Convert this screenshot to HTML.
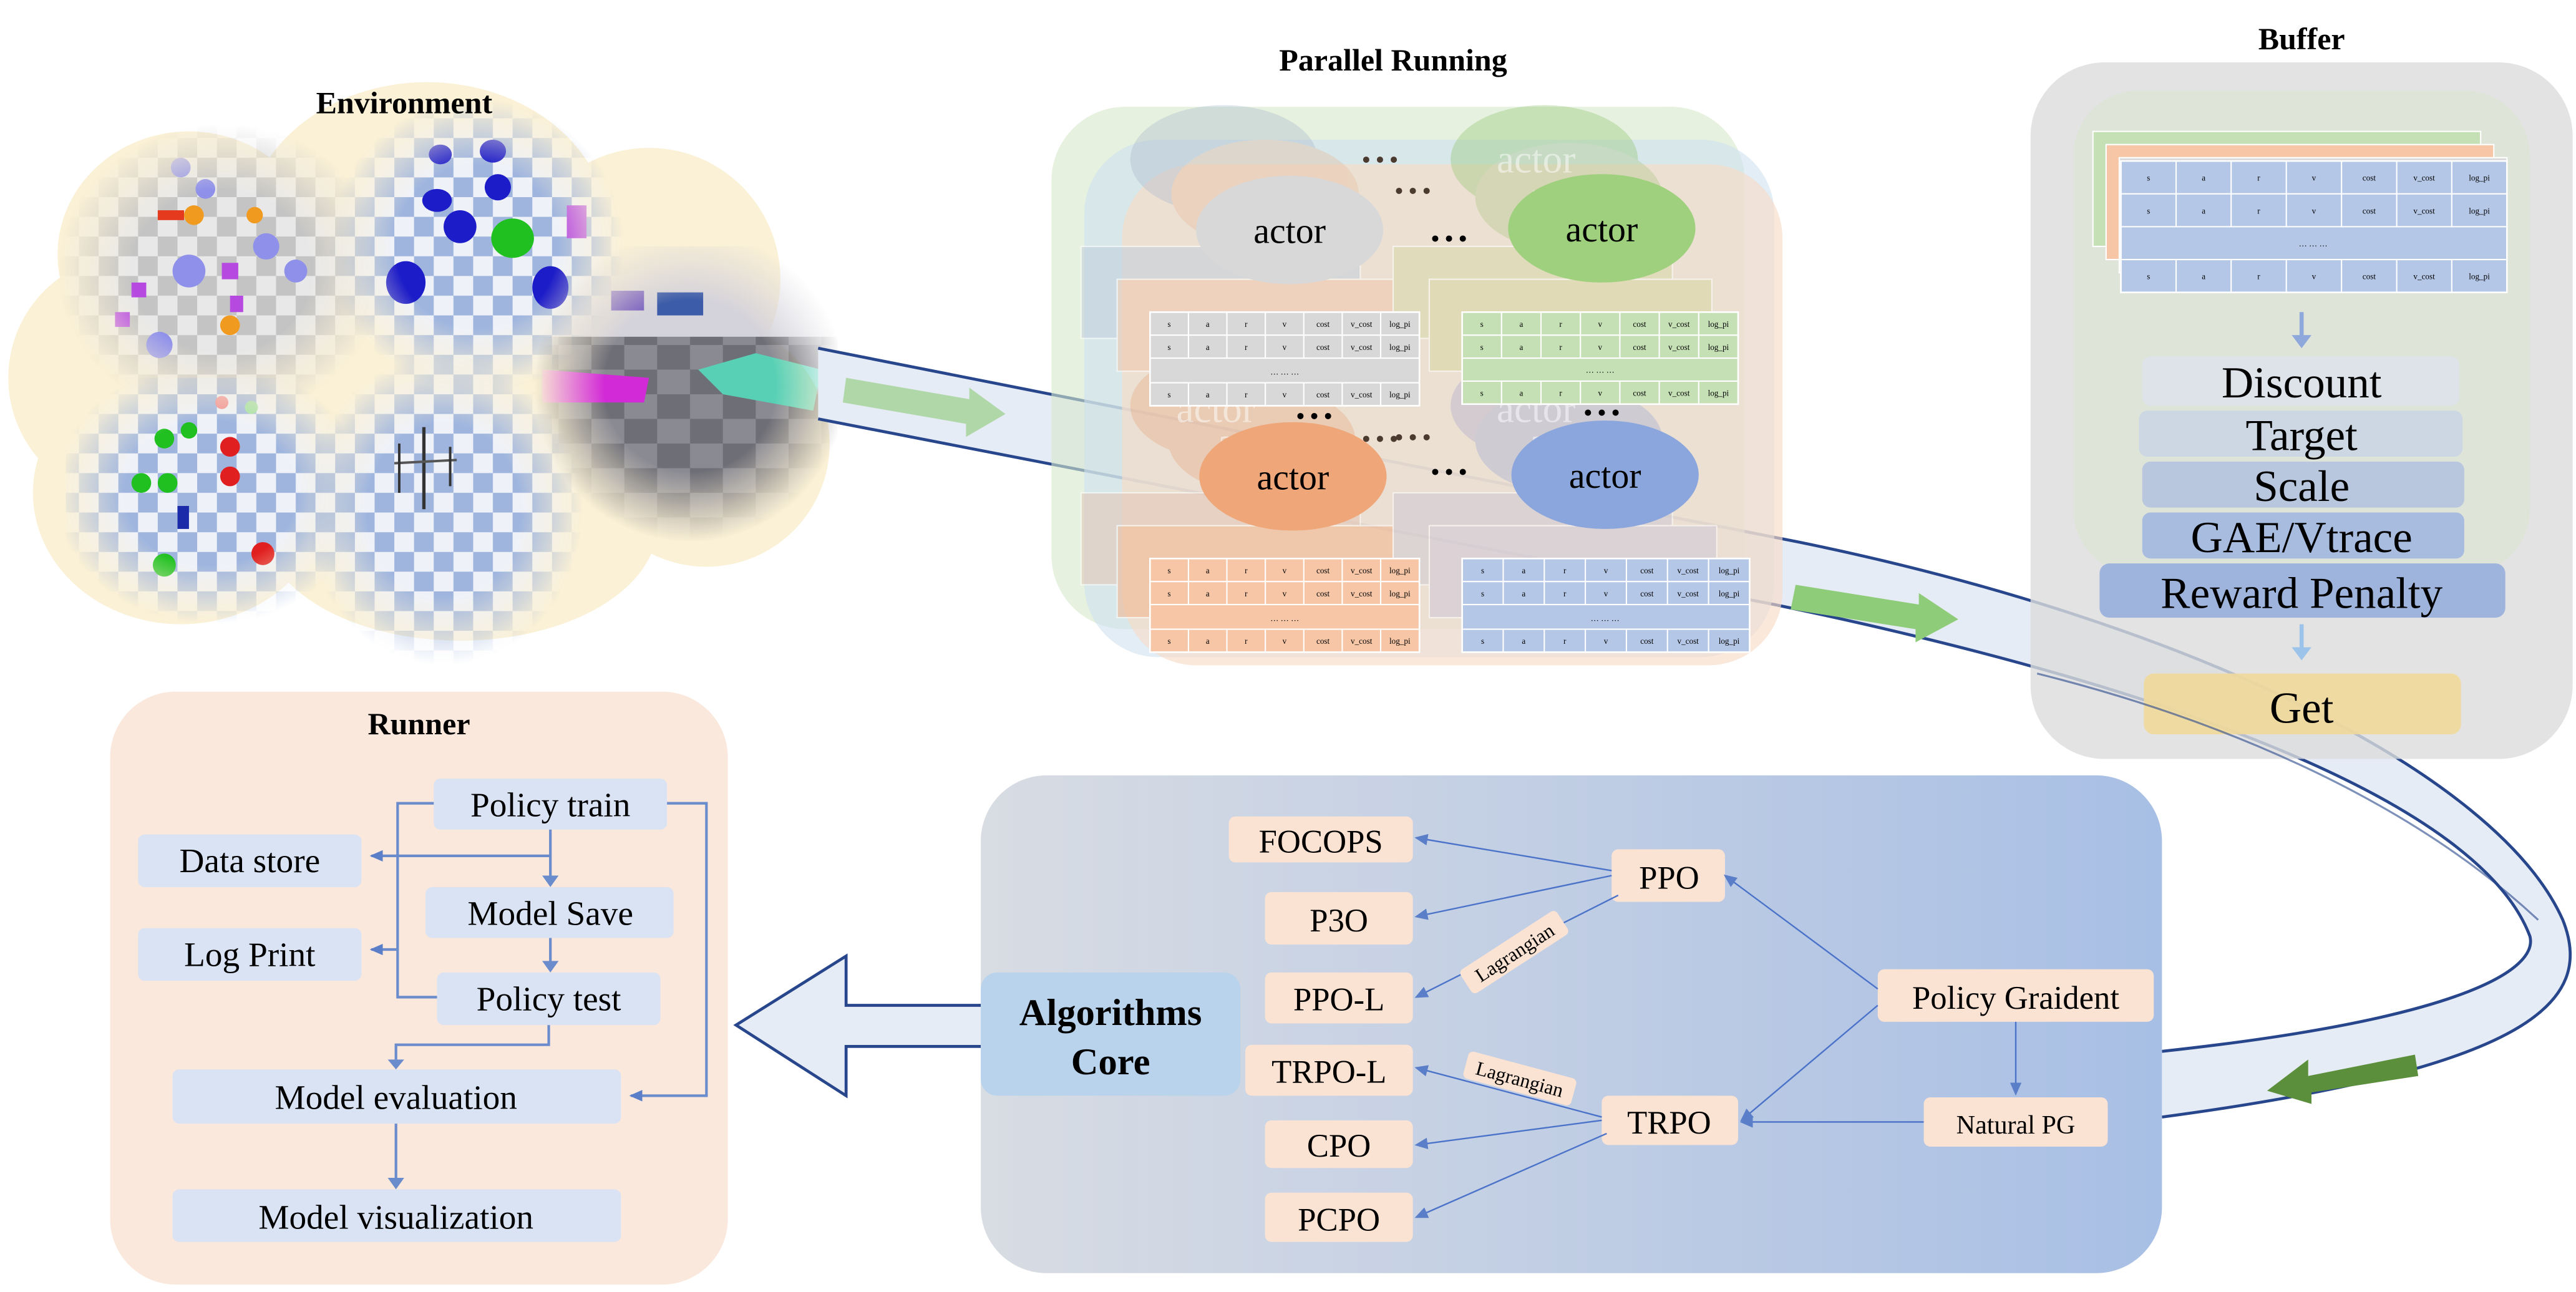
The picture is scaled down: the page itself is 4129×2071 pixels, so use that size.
<!DOCTYPE html>
<html><head><meta charset="utf-8"><style>
html,body{margin:0;padding:0;background:#fff}
svg{display:block}
text{font-family:"Liberation Serif",serif}
</style></head><body>
<svg width="4129" height="2071" viewBox="0 0 1568 786.5" xmlns="http://www.w3.org/2000/svg">
<defs>
<pattern id="chkB" width="24" height="24" patternUnits="userSpaceOnUse"><rect width="24" height="24" fill="#eef1f8"/><rect width="12" height="12" fill="#9fb5de"/><rect x="12" y="12" width="12" height="12" fill="#9fb5de"/></pattern>
<pattern id="chkG" width="24" height="24" patternUnits="userSpaceOnUse"><rect width="24" height="24" fill="#e8e8e8"/><rect width="12" height="12" fill="#c4c4c4"/><rect x="12" y="12" width="12" height="12" fill="#c4c4c4"/></pattern>
<pattern id="chkD" width="40" height="30" patternUnits="userSpaceOnUse"><rect width="40" height="30" fill="#8a8a92"/><rect width="20" height="15" fill="#6e6e76"/><rect x="20" y="15" width="20" height="15" fill="#6e6e76"/></pattern>
<radialGradient id="fade"><stop offset="0.55" stop-color="#fff" stop-opacity="1"/><stop offset="1" stop-color="#fff" stop-opacity="0"/></radialGradient>
<mask id="m1"><ellipse cx="135" cy="165" rx="100" ry="90" fill="url(#fade)"/></mask>
<mask id="m2"><ellipse cx="290" cy="150" rx="90" ry="90" fill="url(#fade)"/></mask>
<mask id="m3"><ellipse cx="420" cy="235" rx="95" ry="95" fill="url(#fade)"/></mask>
<mask id="m4"><ellipse cx="128" cy="300" rx="95" ry="80" fill="url(#fade)"/></mask>
<mask id="m5"><ellipse cx="270" cy="310" rx="85" ry="95" fill="url(#fade)"/></mask>
<linearGradient id="alg" x1="0" x2="1" y1="0" y2="0"><stop offset="0" stop-color="#d8dce3"/><stop offset="1" stop-color="#a8bfe5"/></linearGradient>
<marker id="ah" markerWidth="8" markerHeight="8" refX="7" refY="4" orient="auto" markerUnits="userSpaceOnUse"><path d="M0,0.5 L8,4 L0,7.5 z" fill="#5a7fc8"/></marker>
</defs>

<!-- ================= Environment ================= -->
<g>
<ellipse cx="80" cy="230" rx="75" ry="75" fill="#fbf1d6"/>
<ellipse cx="115" cy="155" rx="80" ry="75" fill="#fbf1d6"/>
<ellipse cx="260" cy="140" rx="110" ry="90" fill="#fbf1d6"/>
<ellipse cx="395" cy="170" rx="80" ry="80" fill="#fbf1d6"/>
<ellipse cx="430" cy="270" rx="75" ry="75" fill="#fbf1d6"/>
<ellipse cx="110" cy="300" rx="90" ry="80" fill="#fbf1d6"/>
<ellipse cx="280" cy="320" rx="120" ry="70" fill="#fbf1d6"/>
<ellipse cx="250" cy="230" rx="150" ry="90" fill="#fbf1d6"/>
<g mask="url(#m1)"><rect x="30" y="70" width="210" height="190" fill="url(#chkG)"/>
<circle cx="110" cy="102" r="6" fill="#8e90e8"/><circle cx="118" cy="131" r="6" fill="#f09a20"/><circle cx="155" cy="131" r="5" fill="#f09a20"/><rect x="96" y="128" width="16" height="6" fill="#e63a1e"/>
<circle cx="162" cy="150" r="8" fill="#8e90ea"/><circle cx="115" cy="165" r="10" fill="#8e90ea"/><rect x="135" y="160" width="10" height="10" fill="#b64ae0"/>
<rect x="80" y="172" width="9" height="9" fill="#b64ae0"/><rect x="140" y="180" width="8" height="10" fill="#b64ae0"/><circle cx="97" cy="210" r="8" fill="#8e90ea"/><circle cx="140" cy="198" r="6" fill="#f09a20"/><circle cx="180" cy="165" r="7" fill="#8e90ea"/><rect x="70" y="190" width="9" height="9" fill="#b64ae0"/><circle cx="125" cy="115" r="6" fill="#8e90ea"/></g>
<g mask="url(#m2)"><rect x="195" y="60" width="190" height="190" fill="url(#chkB)"/>
<ellipse cx="266" cy="122" rx="9" ry="7" fill="#1c1cc8"/><ellipse cx="300" cy="92" rx="8" ry="7" fill="#1c1cc8"/><ellipse cx="268" cy="94" rx="7" ry="6" fill="#1c1cc8"/><ellipse cx="280" cy="138" rx="10" ry="10" fill="#1c1cc8"/><ellipse cx="312" cy="145" rx="13" ry="12" fill="#20c020"/><ellipse cx="247" cy="172" rx="12" ry="13" fill="#1c1cc8"/><ellipse cx="335" cy="175" rx="11" ry="13" fill="#1c1cc8"/><ellipse cx="303" cy="114" rx="8" ry="8" fill="#1c1cc8"/><rect x="345" y="125" width="12" height="20" fill="#b64ae0"/></g>
<g mask="url(#m3)"><rect x="320" y="150" width="190" height="190" fill="url(#chkD)"/><rect x="320" y="150" width="190" height="55" fill="#d4d2da"/>
<path d="M330,225 L395,230 L392,245 L330,245z" fill="#d22ad6"/><path d="M425,225 L460,215 L500,225 L495,250 L440,240z" fill="#58d0b5"/><rect x="400" y="178" width="28" height="14" fill="#3c5ba8"/><rect x="372" y="177" width="20" height="12" fill="#7a62c0"/></g>
<g mask="url(#m4)"><rect x="40" y="230" width="180" height="150" fill="url(#chkB)"/>
<circle cx="115" cy="262" r="5" fill="#20c020"/><circle cx="100" cy="267" r="6" fill="#20c020"/><circle cx="140" cy="272" r="6" fill="#e02020"/><circle cx="86" cy="294" r="6" fill="#20c020"/><circle cx="102" cy="294" r="6" fill="#20c020"/><circle cx="140" cy="290" r="6" fill="#e02020"/><circle cx="100" cy="344" r="7" fill="#20c020"/><circle cx="160" cy="337" r="7" fill="#e02020"/><rect x="108" y="308" width="7" height="14" fill="#1a2aa8"/><circle cx="135" cy="245" r="4" fill="#f09090"/><circle cx="153" cy="248" r="4" fill="#a0e0a0"/></g>
<g mask="url(#m5)"><rect x="190" y="215" width="170" height="190" fill="url(#chkB)"/>
<line x1="258" y1="260" x2="258" y2="310" stroke="#333" stroke-width="2"/><line x1="240" y1="282" x2="278" y2="280" stroke="#555" stroke-width="1.5"/><line x1="243" y1="270" x2="243" y2="300" stroke="#333" stroke-width="1.5"/><line x1="274" y1="272" x2="274" y2="296" stroke="#333" stroke-width="1.5"/></g>
<text x="246" y="69" font-size="19" font-weight="bold" text-anchor="middle">Environment</text>
</g>

<!-- ================= Big band connector ================= -->
<path d="M498,212 L1095,330 C1330,378 1520,470 1560,560 C1580,610 1540,650 1316,680 L1316,640 C1500,620 1545,590 1540,570 C1510,490 1330,420 1080,368 L498,255 Z" fill="#e6ecf6" stroke="none"/>
<path d="M498,212 L1095,330 C1330,378 1520,470 1560,560 C1580,610 1540,650 1316,680" fill="none" stroke="#27468c" stroke-width="1.8"/>
<path d="M498,255 L1080,368 C1330,420 1510,490 1540,570 C1545,590 1500,620 1316,640" fill="none" stroke="#27468c" stroke-width="1.8"/>
<path d="M515,230 L590,243 L590,236 L612,252 L588,266 L588,258 L513,245z" fill="#a6d49a" opacity="0.85"/>
<path d="M1093,356 L1168,368 L1168,361 L1192,377 L1166,391 L1166,383 L1090,371z" fill="#8fcc7a"/>
<path d="M1470,642 L1405,655 L1405,645 L1380,664 L1407,672 L1407,665 L1472,655z" fill="#5c8f3c"/>

<!-- ================= Parallel Running ================= -->
<text x="848" y="43" font-size="19" font-weight="bold" text-anchor="middle">Parallel Running</text>
<rect x="640" y="65" width="422" height="318" rx="45" fill="#d6e8cc" opacity="0.6"/>
<rect x="660" y="85" width="420" height="315" rx="45" fill="#cfe1ee" opacity="0.6"/>
<rect x="683" y="100" width="402" height="305" rx="45" fill="#f8dcc8" opacity="0.65"/>
<g opacity="0.35">
<ellipse cx="745" cy="97" rx="57" ry="33" fill="#a9b8cc"/><ellipse cx="770" cy="118" rx="57" ry="33" fill="#e8b99c"/>
<ellipse cx="940" cy="97" rx="57" ry="33" fill="#8fc46e"/><ellipse cx="955" cy="120" rx="57" ry="33" fill="#a8c47e"/>
<ellipse cx="745" cy="247" rx="57" ry="33" fill="#e8a57c"/><ellipse cx="768" cy="268" rx="57" ry="33" fill="#e8a57c"/>
<ellipse cx="940" cy="247" rx="57" ry="33" fill="#a6a6c8"/><ellipse cx="955" cy="268" rx="57" ry="33" fill="#9aa6d4"/>
</g>
<g fill="#fff" opacity="0.5" font-size="24" text-anchor="middle"><text x="935" y="105">actor</text><text x="955" y="127">actor</text><text x="740" y="257">actor</text><text x="765" y="277">actor</text><text x="935" y="257">actor</text><text x="955" y="277">actor</text></g>
<g font-size="14" font-weight="bold" fill="#4a3a30" text-anchor="middle"><text x="840" y="102">• • •</text><text x="860" y="121">• • •</text><text x="840" y="272">• • •</text><text x="860" y="271">• • •</text></g>
<g font-size="14" font-weight="bold" text-anchor="middle"><text x="882" y="150">• • •</text><text x="800" y="258">• • •</text><text x="975" y="256">• • •</text><text x="882" y="292">• • •</text></g>
<g opacity="0.55">
<rect x="658" y="150" width="170" height="56" fill="#c2cfdd" stroke="#fff" stroke-width="0.8"/>
<rect x="680" y="170" width="170" height="56" fill="#f0c8ae" stroke="#fff" stroke-width="0.8"/>
<rect x="848" y="150" width="170" height="56" fill="#d7d9a8" stroke="#fff" stroke-width="0.8"/>
<rect x="870" y="170" width="172" height="56" fill="#d9d6a0" stroke="#fff" stroke-width="0.8"/>
<rect x="658" y="300" width="170" height="56" fill="#e4c6b6" stroke="#fff" stroke-width="0.8"/>
<rect x="680" y="320" width="170" height="56" fill="#f3b48c" stroke="#fff" stroke-width="0.8"/>
<rect x="848" y="300" width="170" height="56" fill="#cfcad4" stroke="#fff" stroke-width="0.8"/>
<rect x="870" y="320" width="175" height="56" fill="#cfc8d8" stroke="#fff" stroke-width="0.8"/>
</g>
<ellipse cx="785" cy="140" rx="57" ry="33" fill="#d8d8d8"/><text x="785" y="148" font-size="22" text-anchor="middle">actor</text>
<ellipse cx="975" cy="139" rx="57" ry="33" fill="#9fd07e"/><text x="975" y="147" font-size="22" text-anchor="middle">actor</text>
<ellipse cx="787" cy="290" rx="57" ry="33" fill="#efa679"/><text x="787" y="298" font-size="22" text-anchor="middle">actor</text>
<ellipse cx="977" cy="289" rx="57" ry="33" fill="#8aa6dc"/><text x="977" y="297" font-size="22" text-anchor="middle">actor</text>

<g font-size="5" text-anchor="middle">
<g transform="translate(700,190)">
<rect width="164" height="57" fill="#d8d8d8" stroke="#fff"/>
<g stroke="#fff" stroke-width="0.8"><line x1="0" y1="14" x2="164" y2="14"/><line x1="0" y1="28" x2="164" y2="28"/><line x1="0" y1="43" x2="164" y2="43"/>
<path d="M23.4,0V28M46.8,0V28M70.2,0V28M93.6,0V28M117,0V28M140.4,0V28M23.4,43V57M46.8,43V57M70.2,43V57M93.6,43V57M117,43V57M140.4,43V57"/></g>
<text y="9"><tspan x="11.7">s</tspan><tspan x="35.1">a</tspan><tspan x="58.5">r</tspan><tspan x="81.9">v</tspan><tspan x="105.3">cost</tspan><tspan x="128.7">v_cost</tspan><tspan x="152.1">log_pi</tspan></text>
<text y="23"><tspan x="11.7">s</tspan><tspan x="35.1">a</tspan><tspan x="58.5">r</tspan><tspan x="81.9">v</tspan><tspan x="105.3">cost</tspan><tspan x="128.7">v_cost</tspan><tspan x="152.1">log_pi</tspan></text>
<text x="82" y="38">… … …</text>
<text y="52"><tspan x="11.7">s</tspan><tspan x="35.1">a</tspan><tspan x="58.5">r</tspan><tspan x="81.9">v</tspan><tspan x="105.3">cost</tspan><tspan x="128.7">v_cost</tspan><tspan x="152.1">log_pi</tspan></text>
</g>
<g transform="translate(890,190)">
<rect width="168" height="56" fill="#c5e0b4" stroke="#fff"/>
<g stroke="#fff" stroke-width="0.8"><line x1="0" y1="14" x2="168" y2="14"/><line x1="0" y1="28" x2="168" y2="28"/><line x1="0" y1="42" x2="168" y2="42"/>
<path d="M24,0V28M48,0V28M72,0V28M96,0V28M120,0V28M144,0V28M24,42V56M48,42V56M72,42V56M96,42V56M120,42V56M144,42V56"/></g>
<text y="9"><tspan x="12">s</tspan><tspan x="36">a</tspan><tspan x="60">r</tspan><tspan x="84">v</tspan><tspan x="108">cost</tspan><tspan x="132">v_cost</tspan><tspan x="156">log_pi</tspan></text>
<text y="23"><tspan x="12">s</tspan><tspan x="36">a</tspan><tspan x="60">r</tspan><tspan x="84">v</tspan><tspan x="108">cost</tspan><tspan x="132">v_cost</tspan><tspan x="156">log_pi</tspan></text>
<text x="84" y="37">… … …</text>
<text y="51"><tspan x="12">s</tspan><tspan x="36">a</tspan><tspan x="60">r</tspan><tspan x="84">v</tspan><tspan x="108">cost</tspan><tspan x="132">v_cost</tspan><tspan x="156">log_pi</tspan></text>
</g>
<g transform="translate(700,340)">
<rect width="164" height="57" fill="#f6c6a6" stroke="#fff"/>
<g stroke="#fff" stroke-width="0.8"><line x1="0" y1="14" x2="164" y2="14"/><line x1="0" y1="28" x2="164" y2="28"/><line x1="0" y1="43" x2="164" y2="43"/>
<path d="M23.4,0V28M46.8,0V28M70.2,0V28M93.6,0V28M117,0V28M140.4,0V28M23.4,43V57M46.8,43V57M70.2,43V57M93.6,43V57M117,43V57M140.4,43V57"/></g>
<text y="9"><tspan x="11.7">s</tspan><tspan x="35.1">a</tspan><tspan x="58.5">r</tspan><tspan x="81.9">v</tspan><tspan x="105.3">cost</tspan><tspan x="128.7">v_cost</tspan><tspan x="152.1">log_pi</tspan></text>
<text y="23"><tspan x="11.7">s</tspan><tspan x="35.1">a</tspan><tspan x="58.5">r</tspan><tspan x="81.9">v</tspan><tspan x="105.3">cost</tspan><tspan x="128.7">v_cost</tspan><tspan x="152.1">log_pi</tspan></text>
<text x="82" y="38">… … …</text>
<text y="52"><tspan x="11.7">s</tspan><tspan x="35.1">a</tspan><tspan x="58.5">r</tspan><tspan x="81.9">v</tspan><tspan x="105.3">cost</tspan><tspan x="128.7">v_cost</tspan><tspan x="152.1">log_pi</tspan></text>
</g>
<g transform="translate(890,340)">
<rect width="175" height="57" fill="#b4c7e7" stroke="#fff"/>
<g stroke="#fff" stroke-width="0.8"><line x1="0" y1="14" x2="175" y2="14"/><line x1="0" y1="28" x2="175" y2="28"/><line x1="0" y1="43" x2="175" y2="43"/>
<path d="M25,0V28M50,0V28M75,0V28M100,0V28M125,0V28M150,0V28M25,43V57M50,43V57M75,43V57M100,43V57M125,43V57M150,43V57"/></g>
<text y="9"><tspan x="12.5">s</tspan><tspan x="37.5">a</tspan><tspan x="62.5">r</tspan><tspan x="87.5">v</tspan><tspan x="112.5">cost</tspan><tspan x="137.5">v_cost</tspan><tspan x="162.5">log_pi</tspan></text>
<text y="23"><tspan x="12.5">s</tspan><tspan x="37.5">a</tspan><tspan x="62.5">r</tspan><tspan x="87.5">v</tspan><tspan x="112.5">cost</tspan><tspan x="137.5">v_cost</tspan><tspan x="162.5">log_pi</tspan></text>
<text x="87" y="38">… … …</text>
<text y="52"><tspan x="12.5">s</tspan><tspan x="37.5">a</tspan><tspan x="62.5">r</tspan><tspan x="87.5">v</tspan><tspan x="112.5">cost</tspan><tspan x="137.5">v_cost</tspan><tspan x="162.5">log_pi</tspan></text>
</g>
</g>

<!-- ================= Buffer ================= -->
<text x="1401" y="30" font-size="19" font-weight="bold" text-anchor="middle">Buffer</text>
<rect x="1236" y="38" width="330" height="424" rx="45" fill="#dcdcdc" opacity="0.8"/>
<rect x="1262" y="55" width="278" height="295" rx="40" fill="#dde3d6" opacity="0.8"/>
<rect x="1274" y="80" width="236" height="70" fill="#c5e0b4" stroke="#fff" stroke-width="0.8"/>
<rect x="1282" y="88" width="236" height="70" fill="#f6c6a6" stroke="#fff" stroke-width="0.8"/>
<rect x="1290" y="96" width="236" height="70" fill="#d8d8d8" stroke="#fff" stroke-width="0.8"/>
<g transform="translate(1291,98)" font-size="5" text-anchor="middle">
<rect width="235" height="80" fill="#b4c7e7" stroke="#fff"/>
<g stroke="#fff" stroke-width="0.8"><line x1="0" y1="20" x2="235" y2="20"/><line x1="0" y1="40" x2="235" y2="40"/><line x1="0" y1="60" x2="235" y2="60"/>
<path d="M33.6,0V40M67.1,0V40M100.7,0V40M134.3,0V40M167.9,0V40M201.4,0V40M33.6,60V80M67.1,60V80M100.7,60V80M134.3,60V80M167.9,60V80M201.4,60V80"/></g>
<text y="12"><tspan x="16.8">s</tspan><tspan x="50.4">a</tspan><tspan x="83.9">r</tspan><tspan x="117.5">v</tspan><tspan x="151.1">cost</tspan><tspan x="184.6">v_cost</tspan><tspan x="218.2">log_pi</tspan></text>
<text y="32"><tspan x="16.8">s</tspan><tspan x="50.4">a</tspan><tspan x="83.9">r</tspan><tspan x="117.5">v</tspan><tspan x="151.1">cost</tspan><tspan x="184.6">v_cost</tspan><tspan x="218.2">log_pi</tspan></text>
<text x="117" y="52">… … …</text>
<text y="72"><tspan x="16.8">s</tspan><tspan x="50.4">a</tspan><tspan x="83.9">r</tspan><tspan x="117.5">v</tspan><tspan x="151.1">cost</tspan><tspan x="184.6">v_cost</tspan><tspan x="218.2">log_pi</tspan></text>
</g>
<line x1="1401" y1="190" x2="1401" y2="206" stroke="#8fa8dc" stroke-width="2.5"/><path d="M1395,204 L1407,204 L1401,212z" fill="#8fa8dc"/>
<rect x="1304" y="217" width="193" height="30" rx="5" fill="#dde3e8"/>
<rect x="1302" y="250" width="197" height="28" rx="5" fill="#ccd7e3"/>
<rect x="1304" y="281" width="196" height="28" rx="5" fill="#b8c6de"/>
<rect x="1304" y="312" width="196" height="28" rx="5" fill="#a8bce0"/>
<rect x="1278" y="343" width="247" height="33" rx="6" fill="#9fb4dc"/>
<g font-size="27" text-anchor="middle"><text x="1401" y="242">Discount</text><text x="1401" y="274">Target</text><text x="1401" y="305">Scale</text><text x="1401" y="336">GAE/Vtrace</text><text x="1401" y="370">Reward Penalty</text></g>
<line x1="1401" y1="380" x2="1401" y2="396" stroke="#9cc4ea" stroke-width="2.5"/><path d="M1395,394 L1407,394 L1401,402z" fill="#9cc4ea"/>
<rect x="1305" y="410" width="193" height="37" rx="6" fill="#efd89a" opacity="0.9"/>
<text x="1401" y="440" font-size="27" text-anchor="middle">Get</text>
<path d="M1240,410 C1360,440 1470,490 1545,560" fill="none" stroke="#27468c" stroke-width="1.2" opacity="0.6"/>

<!-- ================= Runner ================= -->
<rect x="67" y="421" width="376" height="361" rx="40" fill="#fbe8dc"/>
<text x="255" y="447" font-size="19" font-weight="bold" text-anchor="middle">Runner</text>
<g fill="#d9e3f3">
<rect x="264" y="474" width="142" height="31" rx="4"/><rect x="84" y="508" width="136" height="32" rx="4"/><rect x="259" y="540" width="151" height="31" rx="4"/><rect x="84" y="565" width="136" height="32" rx="4"/><rect x="266" y="592" width="136" height="32" rx="4"/><rect x="105" y="651" width="273" height="33" rx="4"/><rect x="105" y="724" width="273" height="32" rx="4"/>
</g>
<g font-size="21" text-anchor="middle"><text x="335" y="497">Policy train</text><text x="152" y="531">Data store</text><text x="335" y="563">Model Save</text><text x="152" y="588">Log Print</text><text x="334" y="615">Policy test</text><text x="241" y="675">Model evaluation</text><text x="241" y="748">Model visualization</text></g>
<g fill="none" stroke="#6b8ccc" stroke-width="1.6">
<path d="M335,505 V534"/><path d="M335,571 V586"/><path d="M264,489 H242 V607 H266"/><path d="M335,521 H226" marker-end="url(#ah)"/><path d="M242,578 H226" marker-end="url(#ah)"/>
<path d="M406,489 H430 V667 H384" marker-end="url(#ah)"/><path d="M334,624 V636 H241 V645"/><path d="M241,684 V718"/>
</g>
<g fill="#6b8ccc"><path d="M330,533 L340,533 L335,540z"/><path d="M330,585 L340,585 L335,592z"/><path d="M236,645 L246,645 L241,651z"/><path d="M236,717 L246,717 L241,724z"/></g>

<!-- ================= Algorithms core ================= -->
<path d="M597,612 L515,612 L515,582 L448,624 L515,667 L515,637 L597,637" fill="#e6ecf6" stroke="#27468c" stroke-width="1.8"/>
<rect x="597" y="472" width="719" height="303" rx="40" fill="url(#alg)"/>
<rect x="597" y="592" width="158" height="75" rx="10" fill="#b9d3ec"/>
<text x="676" y="624" font-size="23" font-weight="bold" text-anchor="middle">Algorithms</text>
<text x="676" y="654" font-size="23" font-weight="bold" text-anchor="middle">Core</text>
<g fill="#fbe3d3">
<rect x="748" y="497" width="112" height="28" rx="4"/><rect x="770" y="543" width="90" height="32" rx="4"/><rect x="770" y="592" width="90" height="31" rx="4"/><rect x="758" y="636" width="102" height="31" rx="4"/><rect x="770" y="682" width="90" height="29" rx="4"/><rect x="770" y="726" width="90" height="30" rx="4"/>
<rect x="981" y="517" width="69" height="32" rx="4"/><rect x="975" y="667" width="83" height="30" rx="4"/><rect x="1143" y="590" width="168" height="32" rx="4"/><rect x="1171" y="668" width="112" height="30" rx="4"/>
</g>
<g font-size="20" text-anchor="middle"><text x="804" y="519">FOCOPS</text><text x="815" y="567">P3O</text><text x="815" y="615">PPO-L</text><text x="809" y="659">TRPO-L</text><text x="815" y="704">CPO</text><text x="815" y="749">PCPO</text><text x="1016" y="541">PPO</text><text x="1016" y="690">TRPO</text><text x="1227" y="614">Policy Graident</text></g>
<text x="1227" y="690" font-size="16" text-anchor="middle">Natural PG</text>
<g fill="none" stroke="#4a72c8" stroke-width="0.9">
<path d="M981,530 L862,510" marker-end="url(#ah)"/><path d="M981,533 L862,558" marker-end="url(#ah)"/><path d="M985,545 L862,607" marker-end="url(#ah)"/>
<path d="M975,680 L862,650" marker-end="url(#ah)"/><path d="M975,682 L862,697" marker-end="url(#ah)"/><path d="M978,690 L862,741" marker-end="url(#ah)"/>
<path d="M1143,602 L1050,533" marker-end="url(#ah)"/><path d="M1143,612 L1060,682" marker-end="url(#ah)"/><path d="M1227,622 L1227,666" marker-end="url(#ah)"/><path d="M1171,683 L1060,683" marker-end="url(#ah)"/>
</g>
<g transform="translate(922,580) rotate(-33)"><rect x="-35" y="-9" width="70" height="17" rx="3" fill="#fbe3d3"/><text x="0" y="4" font-size="12" text-anchor="middle">Lagrangian</text></g>
<g transform="translate(925,657) rotate(15)"><rect x="-34" y="-9" width="68" height="17" rx="3" fill="#fbe3d3"/><text x="0" y="4" font-size="12" text-anchor="middle">Lagrangian</text></g>
</svg>
</body></html>
